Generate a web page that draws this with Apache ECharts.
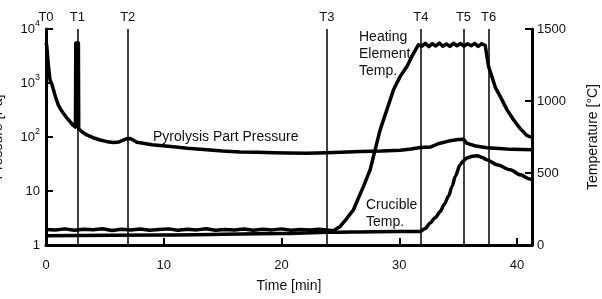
<!DOCTYPE html>
<html>
<head>
<meta charset="utf-8">
<script src="https://cdn.jsdelivr.net/npm/echarts@6/dist/echarts.min.js"></script>
<style>
  html, body { margin: 0; padding: 0; background: #fff; }
  #chart { width: 602px; height: 299px; }
</style>
</head>
<body>
<div id="chart"></div>
<script>
// pyrolysis run: pressure (log, left) and temperatures (right) vs time
const eventLabels = ['T0', 'T1', 'T2', 'T3', 'T4', 'T5', 'T6']
const eventTimes = [0, 2.66, 6.94, 23.85, 31.83, 35.45, 37.58]

const pressureTime = [0, 0.06, 0.2, 0.34, 0.5, 0.62, 0.76, 0.9, 1.05, 1.25, 1.47, 1.75, 2.04, 2.3, 2.5, 2.53, 2.75, 2.78,
  3.0, 3.46, 4.0, 4.59, 5.2, 5.72, 6.2, 6.57, 6.9, 7.14, 7.4, 7.71, 8.0, 9.0, 10.82, 12.0, 13.65, 15.0,
  16.48, 18.0, 19.31, 20.5, 22.15, 23.85, 25.0, 26.7, 28.5, 30.1, 31.0, 31.78, 32.63, 33.3, 34.18,
  35.0, 35.45, 35.74, 36.5, 37.44, 38.5, 39.5, 40.5, 41.27]
const pressure = [5500, 5000, 2150, 1140, 950, 920, 600, 480, 390, 325, 275, 228, 192, 165, 152, 5500, 5500, 142,
  128, 109, 97, 88, 82, 79, 81, 88, 93, 94, 88, 80, 78, 72, 66, 62, 58, 55,
  53, 52, 51, 50.5, 50, 51, 52, 54, 55, 57, 60, 64, 65, 75, 84,
  90, 91, 76, 68, 63, 61, 59, 58.5, 58]

const heatingTime = [0, 0.8, 1.6, 2.4, 3.2, 4.0, 4.8, 5.6, 6.4, 7.2, 8.0, 8.8, 9.6, 10.4, 11.2, 12.0,
  12.8, 13.6, 14.4, 15.2, 16.0, 16.8, 17.6, 18.4, 19.2, 20.0, 20.8, 21.6, 22.4, 23.2, 24.0, 24.41,
  24.98, 25.5, 26.11, 26.5, 26.96, 27.53, 27.95, 28.38, 28.95, 29.51, 30.08, 30.4, 30.65, 30.8, 31.07, 31.63,
  31.9, 32.2, 32.5, 32.8, 33.1, 33.4, 33.7, 34.0, 34.3, 34.6, 34.9, 35.2, 35.5, 35.8, 36.1, 36.4, 36.7,
  37.0, 37.3, 37.44, 37.58, 37.86, 38.15, 38.57, 39.14, 39.7, 40.27, 40.84, 41.27]
const heatingTemp = [108, 104, 112, 102, 110, 106, 113, 101, 109, 104, 111, 103, 108, 112, 102, 109,
  105, 113, 103, 108, 104, 111, 102, 109, 105, 112, 103, 108, 104, 110, 103, 99,
  129, 180, 245, 320, 407, 523, 662, 801, 940, 1078, 1171, 1210, 1240, 1230, 1310, 1391,
  1380, 1400, 1378, 1398, 1382, 1402, 1380, 1396, 1379, 1401, 1384, 1399, 1381, 1397, 1383, 1400, 1379,
  1398, 1385, 1391, 1240, 1171, 1095, 1032, 940, 870, 808, 760, 748]

const crucibleTime = [0, 10, 20, 24, 28, 31.78, 32.2, 32.63, 33.05, 33.48, 33.8, 34.18, 34.5, 34.75,
  35.17, 35.45, 35.74, 36.2, 36.59, 37.0, 37.44, 38.29, 39.42, 40.27, 41.12, 41.27]
const crucibleTemp = [65, 70, 80, 88, 92, 94, 115, 153, 190, 233, 280, 338, 410, 476,
  558, 585, 604, 616, 620, 610, 592, 558, 523, 488, 458, 455]

const pressureTicks = { 1: '1', 10: '10', 100: '10{s|2}', 1000: '10{s|3}', 10000: '10{s|4}' }

const font = '"Liberation Sans", Arial, sans-serif'
const ink = '#111'
const zip = (xs, ys) => xs.map((x, i) => [x, ys[i]])

const chart = echarts.init(document.getElementById('chart'))

const axisLine = { onZero: false, lineStyle: { color: '#000', width: 3 } }
const axisTick = { inside: true, length: 7, lineStyle: { color: '#000', width: 2 } }
const curve = { color: '#000', width: 3.5, join: 'round' }

chart.setOption({
  animation: false,
  backgroundColor: '#fff',
  textStyle: { fontFamily: font, color: ink },
  grid: { left: 46, right: 70, top: 29, bottom: 54, outerBoundsMode: 'none' },
  xAxis: {
    type: 'value',
    min: 0,
    max: 41.27,
    interval: 10,
    axisLine,
    axisTick,
    splitLine: { show: false },
    axisLabel: { margin: 14, fontSize: 13, color: ink, showMaxLabel: false },
    name: 'Time [min]',
    nameLocation: 'middle',
    nameGap: 34,
    nameTextStyle: { fontSize: 14, color: ink }
  },
  yAxis: [
    {
      type: 'log',
      logBase: 10,
      min: 1,
      max: 10000,
      position: 'left',
      axisLine,
      axisTick,
      splitLine: { show: false },
      axisLabel: {
        margin: 6,
        color: ink,
        formatter: (v) => pressureTicks[Math.round(v)] || '',
        fontSize: 13,
        rich: { s: { fontSize: 9, color: ink, padding: [0, 0, 10, 0] } }
      },
      name: 'Pressure [Pa]',
      nameLocation: 'middle',
      nameGap: 41,
      nameTextStyle: { fontSize: 14, color: ink }
    },
    {
      type: 'value',
      min: 0,
      max: 1500,
      interval: 500,
      position: 'right',
      axisLine,
      axisTick,
      splitLine: { show: false },
      axisLabel: { margin: 5, fontSize: 13, color: ink, formatter: (v) => String(v) },
      name: 'Temperature [°C]',
      nameLocation: 'middle',
      nameGap: 54,
      nameTextStyle: { fontSize: 14, color: ink }
    }
  ],
  series: [
    {
      name: 'Pyrolysis Part Pressure',
      type: 'line',
      yAxisIndex: 0,
      data: zip(pressureTime, pressure),
      showSymbol: false,
      lineStyle: curve,
      markLine: {
        silent: true,
        symbol: ['none', 'none'],
        lineStyle: { color: '#000', width: 1.5, type: 'solid' },
        label: { show: true, position: 'end', formatter: '{b}', distance: 5, fontSize: 13, color: ink },
        data: eventTimes.map((t, i) => ({ xAxis: t, name: eventLabels[i] }))
      }
    },
    {
      name: 'Heating Element Temp.',
      type: 'line',
      yAxisIndex: 1,
      data: zip(heatingTime, heatingTemp),
      showSymbol: false,
      lineStyle: curve
    },
    {
      name: 'Crucible Temp.',
      type: 'line',
      yAxisIndex: 1,
      data: zip(crucibleTime, crucibleTemp),
      showSymbol: false,
      smooth: 0.3,
      smoothMonotone: 'x',
      lineStyle: curve
    }
  ],
  graphic: [
    { type: 'text', left: 153, top: 130, z: 100, style: { text: 'Pyrolysis Part Pressure', fontSize: 14, fontFamily: font, fill: ink } },
    { type: 'text', left: 359, top: 29, z: 100, style: { text: 'Heating\nElement\nTemp.', fontSize: 14, fontFamily: font, fill: ink, lineHeight: 17 } },
    { type: 'text', left: 366, top: 197, z: 100, style: { text: 'Crucible\nTemp.', fontSize: 14, fontFamily: font, fill: ink, lineHeight: 17 } }
  ]
})
</script>
</body>
</html>
